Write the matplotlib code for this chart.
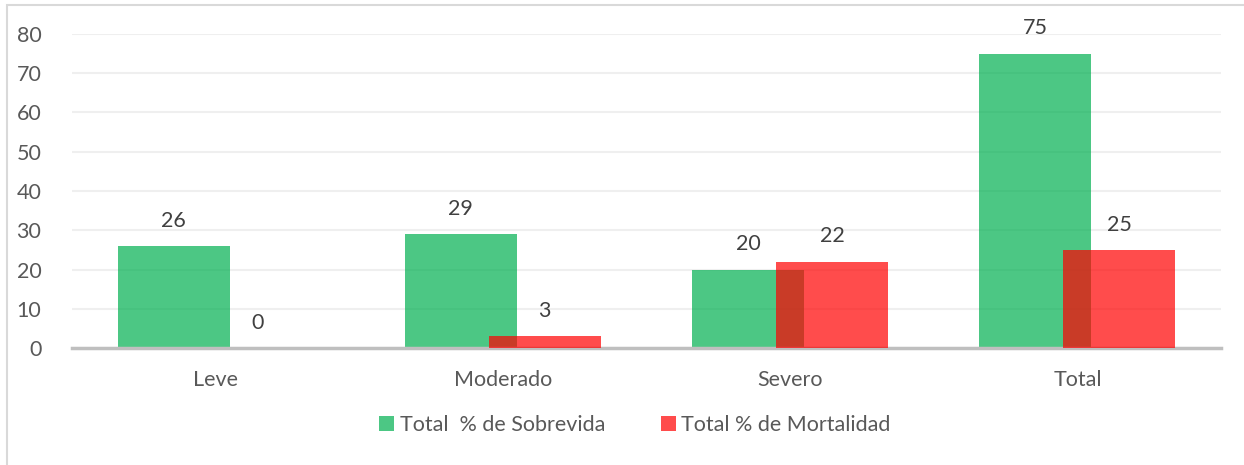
import numpy as np
import matplotlib.pyplot as plt
from matplotlib.patches import Rectangle

# Datos
categorias = ['Leve', 'Moderado', 'Severo', 'Total']
sobrevida = [26, 29, 20, 75]
mortalidad = [0, 3, 22, 25]
etiquetas = ['Total  % de Sobrevida', 'Total % de Mortalidad']

plt.rcParams['font.family'] = ['Lato', 'DejaVu Sans']

W, H = 1244, 465
fig = plt.figure(figsize=(W / 100, H / 100), dpi=100)

# marco del gráfico (sólo se ven los bordes izquierdo y superior)
fig.patches.append(Rectangle((7 / W, -0.1), 1.2, 1.1 - 5 / H, transform=fig.transFigure,
                             fill=False, edgecolor='#d9d9d9', linewidth=1.5))

ax = fig.add_axes([72 / W, (H - 348) / H, (1221 - 72) / W, (348 - 34) / H])

x = np.arange(len(categorias))
ancho = 0.39
desp = 0.146
verde = ax.bar(x - desp, sobrevida, ancho, color='#00b050', alpha=0.7, label=etiquetas[0], zorder=2)
rojo = ax.bar(x + desp, mortalidad, ancho, color='#ff0000', alpha=0.7, label=etiquetas[1], zorder=3)

for barras in (verde, rojo):
    for b in barras:
        ax.annotate(f'{b.get_height():g}', (b.get_x() + b.get_width() / 2, b.get_height()),
                    xytext=(0, 11), textcoords='offset points', ha='center', va='bottom',
                    fontsize=15.5, color='#404040')

ax.set_xlim(-0.5, 3.5)
ax.set_ylim(0, 80)
ax.set_yticks(range(0, 81, 10))
ax.set_xticks(x)
ax.set_xticklabels(categorias)
ax.tick_params(axis='both', length=0, labelsize=15.5, labelcolor='#595959')
ax.tick_params(axis='x', pad=16)
ax.tick_params(axis='y', pad=22)
ax.grid(axis='y', color='#efefef', linewidth=1.5, zorder=0)
ax.set_axisbelow(True)
for s in ['top', 'right', 'left']:
    ax.spines[s].set_visible(False)
ax.spines['bottom'].set_color('#bfbfbf')
ax.spines['bottom'].set_linewidth(2.5)

fig.legend(handles=[verde, rojo], labels=etiquetas, loc='center', bbox_to_anchor=(635 / W, (H - 425) / H),
           ncol=2, frameon=False, fontsize=15.5, labelcolor='#595959', handlelength=0.7, handleheight=0.7,
           handletextpad=0.25, columnspacing=2.6)

fig.savefig('out.png', dpi=100)
